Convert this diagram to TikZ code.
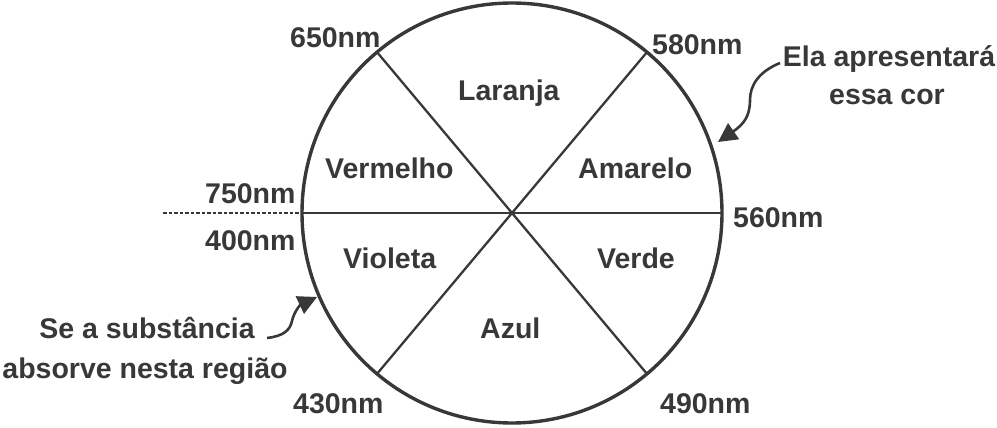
\documentclass[tikz,border=0pt]{standalone}
\usepackage{fontspec}
\setmainfont{Liberation Sans}
\usetikzlibrary{arrows.meta,calc}
\definecolor{ink}{HTML}{383838}
\begin{document}
\begin{tikzpicture}[x=1pt,y=-1pt,
  lbl/.style={font=\bfseries\fontsize{28.5}{34}\selectfont, text=ink, inner sep=0pt},
  rim/.style={draw=ink, line width=3.4pt},
  spoke/.style={draw=ink, line width=2.3pt},
  guide/.style={draw=ink, line width=1.5pt, dash pattern=on 3.5pt off 2pt},
  pointer/.style={draw=ink, line width=2.6pt, -{Triangle[length=19pt,width=19pt]}}]
\useasboundingbox (0,0) rectangle (997,428);
\coordinate (c) at (512,213);
\coordinate (pUL) at ($(c)+(-130:210)$);
\coordinate (pUR) at ($(c)+(-50:210)$);
\coordinate (pLL) at ($(c)+(130:210)$);
\coordinate (pLR) at ($(c)+(50:210)$);
\coordinate (pL) at ($(c)+(180:210)$);
\coordinate (pR) at ($(c)+(0:210)$);
\coordinate (dashstart) at (163,213);
% circle and spokes
\draw[spoke] (pUL) -- (pLR);
\draw[spoke] (pUR) -- (pLL);
\draw[spoke] (pL) -- (pR);
\draw[guide] (dashstart) -- (pL);
\draw[rim] (c) circle (210);
% labels
\node[lbl, anchor=base west] (n650) at (290,48) {650nm};
\node[lbl, anchor=base west] (n580) at (652,55) {580nm};
\node[lbl, anchor=base west] (laranja) at (458,100) {Laranja};
\node[lbl, anchor=base west] (vermelho) at (325,178) {Vermelho};
\node[lbl, anchor=base west] (amarelo) at (578,178) {Amarelo};
\node[lbl, anchor=base west] (n750) at (205,203) {750nm};
\node[lbl, anchor=base west] (n560) at (733,227) {560nm};
\node[lbl, anchor=base west] (n400) at (205,250) {400nm};
\node[lbl, anchor=base west] (violeta) at (343,268) {Violeta};
\node[lbl, anchor=base west] (verde) at (597,268) {Verde};
\node[lbl, anchor=base west] (azul) at (480,338) {Azul};
\node[lbl, anchor=base west] (n430) at (293,413) {430nm};
\node[lbl, anchor=base west] (n490) at (660,413) {490nm};
\node[lbl, anchor=base] (ela1) at (889,67) {Ela apresentará};
\node[lbl, anchor=base] (ela2) at (887,105) {essa cor};
\node[lbl, anchor=base] (se1) at (147,338) {Se a substância};
\node[lbl, anchor=base] (se2) at (145,378) {absorve nesta região};
% pointers
\coordinate (a1s) at (780,63);
\coordinate (a1e) at (718,142);
\coordinate (a2s) at (267,338);
\coordinate (a2e) at (317,297);
\draw[pointer] (a1s) .. controls (758,72) and (750,86) .. (750,100)
  .. controls (750,116) and (744,124) .. (a1e);
\draw[pointer] (a2s) .. controls (284,336) and (290,330) .. (292,321)
  .. controls (294,312) and (300,305) .. (a2e);
\end{tikzpicture}
\end{document}
